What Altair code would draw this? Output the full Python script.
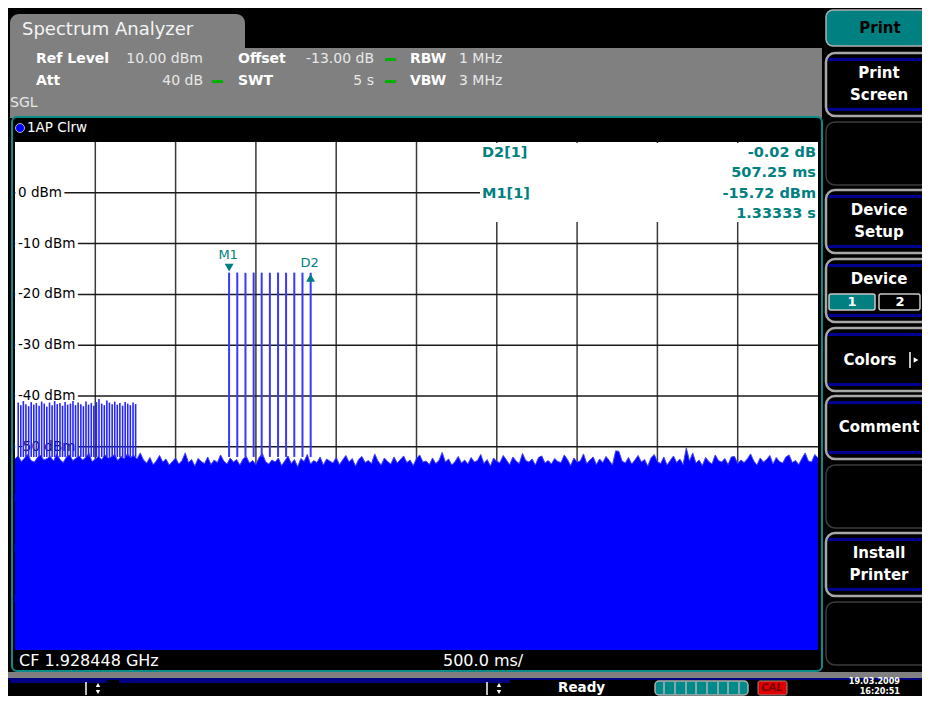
import altair as alt
import pandas as pd

# ---------------- data ----------------
sweep_step_s = 0.02          # trace sample spacing along the 5 s sweep
noise_dbm = [
    -52.4, -51.8, -52.9, -52.2, -51.5, -52.7, -53.0, -52.1, -51.7, -52.6,
    -52.3, -51.9, -52.8, -51.4, -52.5, -53.1, -52.0, -51.6, -52.7, -52.2,
    -51.8, -52.6, -52.1, -51.3, -52.9, -52.4, -51.9, -52.5, -51.6, -52.2,
    -52.0, -51.5, -52.7, -51.9, -52.3, -51.4, -52.1, -51.7, -52.4, -51.2,
    -52.6, -53.2, -52.1, -53.5, -52.8, -51.7, -53.0, -52.4, -53.6, -52.9,
    -52.2, -53.4, -52.7, -51.2, -53.1, -52.5, -53.8, -52.3, -52.9, -53.3,
    -52.0, -53.5, -52.6, -53.1, -51.6, -52.8, -53.4, -52.2, -53.0, -52.5,
    -53.6, -52.4, -51.9, -53.2, -52.7, -53.5, -52.1, -51.3, -52.9, -53.4,
    -52.6, -53.0, -52.2, -53.7, -52.8, -51.8, -53.3, -52.5, -53.9, -52.3,
    -52.9, -51.5, -53.4, -52.7, -53.1, -52.0, -53.6, -52.4, -52.8, -53.2,
    -52.1, -53.5, -52.6, -51.7, -53.0, -52.3, -53.8, -52.5, -51.9, -53.1,
    -52.7, -53.3, -51.4, -52.8, -53.6, -52.2, -52.9, -53.4, -52.0, -53.2,
    -52.5, -51.8, -53.1, -52.6, -53.7, -52.3, -51.6, -53.0, -52.8, -53.5,
    -52.2, -53.3, -52.7, -51.1, -53.0, -52.4, -53.6, -52.9, -51.9, -53.2,
    -52.6, -53.4, -52.1, -53.0, -52.7, -51.5, -53.3, -52.5, -53.8, -52.2,
    -52.9, -53.1, -51.7, -52.6, -53.5, -52.0, -52.8, -53.3, -51.3, -52.7,
    -53.0, -52.4, -53.6, -52.1, -51.8, -53.2, -52.7, -53.4, -52.3, -52.9,
    -53.1, -51.6, -52.5, -53.7, -52.2, -53.0, -52.8, -51.4, -53.3, -52.6,
    -52.0, -53.5, -52.4, -53.1, -51.9, -52.7, -53.6, -50.8, -50.9, -52.8,
    -53.2, -52.1, -53.4, -52.6, -51.7, -53.0, -52.5, -53.8, -52.2, -51.5,
    -52.9, -53.3, -52.0, -53.6, -52.7, -51.8, -53.1, -52.4, -53.5, -50.2,
    -52.8, -51.2, -53.2, -52.6, -53.7, -52.1, -52.9, -53.4, -51.6, -52.7,
    -53.0, -52.3, -53.5, -52.0, -51.9, -53.3, -52.6, -53.1, -52.4, -51.4,
    -52.8, -53.6, -52.2, -53.0, -52.5, -51.7, -53.4, -52.1, -52.9, -53.2,
    -52.0, -51.6, -53.1, -52.7, -53.5, -52.3, -51.2, -52.8, -53.0, -51.5,
    -52.2,
]
left_burst_t = [
    0.020, 0.036, 0.052, 0.068, 0.085, 0.101, 0.117, 0.133, 0.150, 0.166,
    0.182, 0.198, 0.215, 0.231, 0.247, 0.263, 0.280, 0.296, 0.312, 0.328,
    0.345, 0.361, 0.377, 0.393, 0.410, 0.426, 0.442, 0.458, 0.475, 0.491,
    0.507, 0.523, 0.540, 0.556, 0.572, 0.588, 0.605, 0.621, 0.637, 0.653,
    0.670, 0.686, 0.702, 0.718, 0.735, 0.751,
]
left_burst_dbm = [
    -41.3, -41.8, -41.0, -41.6, -42.0, -41.2, -41.7, -41.4, -41.9, -41.1,
    -41.5, -42.1, -41.3, -41.8, -41.0, -41.6, -41.4, -41.9, -41.2, -41.7,
    -41.5, -41.0, -41.8, -41.3, -41.6, -42.0, -41.1, -41.7, -41.4, -41.9,
    -41.2, -40.6, -41.5, -41.8, -40.9, -41.3, -41.6, -41.1, -41.7, -41.4,
    -41.9, -41.2, -41.5, -41.8, -41.3, -41.6,
]
m1_burst_t = [1.333, 1.384, 1.435, 1.486, 1.536, 1.587, 1.638, 1.688, 1.739, 1.790, 1.841]
m1_burst_dbm = [-15.72, -15.70, -15.75, -15.70, -15.72, -15.74, -15.70, -15.73, -15.71, -15.72, -15.74]
burst_floor_dbm = -52.0

ref_levels = [0, -10, -20, -30, -40, -50, -60, -70, -80]
ref_labels = ["0 dBm", "-10 dBm", "-20 dBm", "-30 dBm", "-40 dBm", "-50 dBm", "-60 dBm", "-70 dBm", "-80 dBm"]
time_grid_s = [0.5, 1.0, 1.5, 2.0, 2.5, 3.0, 3.5, 4.0, 4.5]
marker_names = ["M1", "D2"]
marker_t = [1.33333, 1.84058]
marker_dbm = [-15.72, -15.74]

# ---------------- layout helpers (pixel positions of the instrument frame) ----------------
OX, OY = 8, 8
W, H = 914, 688
XS = alt.Scale(domain=[0, 5], range=[15 - OX, 818 - OX])
YS = alt.Scale(domain=[-90, 10], range=[650 - OY, 142 - OY])


def dx(f):
    return alt.X(f, type="quantitative", scale=XS, axis=None)


def dy(f):
    return alt.Y(f, type="quantitative", scale=YS, axis=None)


def px(f):
    return alt.X(f, type="quantitative", scale=None, axis=None)


def py(f):
    return alt.Y(f, type="quantitative", scale=None, axis=None)


def rects(rows, **kw):
    df = pd.DataFrame([{"x": a - OX, "y": b - OY, "x2": c - OX, "y2": d - OY, "f": col}
                       for a, b, c, d, col in rows])
    return alt.Chart(df).mark_rect(**kw).encode(
        x=px("x"), x2=alt.X2("x2"), y=py("y"), y2=alt.Y2("y2"),
        fill=alt.Fill("f:N", scale=None, legend=None))


def texts(rows, **kw):
    df = pd.DataFrame([{"x": a - OX, "y": b - OY, "t": s, "c": col} for s, a, b, col in rows])
    kw.setdefault("baseline", "middle")
    return alt.Chart(df).mark_text(**kw).encode(
        x=px("x"), y=py("y"), text="t:N", color=alt.Color("c:N", scale=None, legend=None))


def segs(rows, **kw):
    df = pd.DataFrame([{"x": a - OX, "y": b - OY, "x2": c - OX, "y2": d - OY} for a, b, c, d in rows])
    return alt.Chart(df).mark_rule(**kw).encode(x=px("x"), x2=alt.X2("x2"), y=py("y"), y2=alt.Y2("y2"))


def pts(rows, **kw):
    df = pd.DataFrame([{"x": a - OX, "y": b - OY} for a, b in rows])
    return alt.Chart(df).mark_point(**kw).encode(x=px("x"), y=py("y"))


GRAY = "#808080"
TEAL = "#008080"
TXT = "#e8e8e8"
layers = []

# ---- frame / panels ----
layers.append(rects([(10, 14, 245, 60, GRAY)], cornerRadiusTopLeft=9, cornerRadiusTopRight=9))
layers.append(rects([
    (10, 48, 822, 118, GRAY),
    (8, 672, 930, 678, GRAY),
    (8, 678, 930, 680, "#000080"),
    (10, 678, 107, 683, "#000080"),
    (119, 678, 510, 683, "#000080"),
    (385, 58, 396, 61, "#00b000"),
    (212, 80, 223, 83, "#00b000"),
    (385, 80, 396, 83, "#00b000"),
]))
layers.append(rects([(12, 117, 822, 671, "#000000")], cornerRadius=5, stroke="#0b8a8a", strokeWidth=2))
layers.append(rects([(15, 142, 818, 650, "#ffffff")]))

# softkey column
layers.append(rects([(826, 10, 936, 46, TEAL)], cornerRadius=7, stroke="#b0b0b0", strokeWidth=1.5))
btn_full = [53, 190, 259, 328, 396, 533]
btn_empty = [122, 465, 602]
layers.append(rects([(826, y, 936, y + 63, "#000000") for y in btn_full],
                    cornerRadius=9, stroke="#a8a8a8", strokeWidth=2.5))
layers.append(rects([(826, y, 936, y + 63, "#000000") for y in btn_empty],
                    cornerRadius=9, stroke="#3c3c3c", strokeWidth=1.5))
bars = []
for y in btn_full:
    bars.append((828, y + 5, 934, y + 8, "#000090"))
    bars.append((828, y + 55, 934, y + 58, "#000090"))
layers.append(rects(bars))
layers.append(rects([(829, 294, 875, 310, TEAL)], cornerRadius=2, stroke="#c8c8c8", strokeWidth=1.5))
layers.append(rects([(879, 294, 920, 310, "#000000")], cornerRadius=2, stroke="#c8c8c8", strokeWidth=1.5))
layers.append(segs([(910, 352, 910, 368)], color="#ffffff", strokeWidth=1.5))
layers.append(pts([(916, 360)], shape="triangle-right", filled=True, color="#ffffff", size=30, opacity=1))

# status bar
layers.append(rects([(655, 681, 748, 695, "#008a8a")], cornerRadius=4, stroke="#b0b0b0", strokeWidth=1.5))
layers.append(segs([(x, 682, x, 694) for x in [664, 675, 686, 696, 707, 718, 728, 739]],
                   color="#b0b0b0", strokeWidth=1.5))
layers.append(rects([(758, 681, 787, 695, "#e00000")], cornerRadius=2, stroke="#909090", strokeWidth=1))
layers.append(segs([(86, 682, 86, 695), (487, 682, 487, 695)], color="#ffffff", strokeWidth=1.5))
layers.append(pts([(98, 685), (499, 685)], shape="triangle-up", filled=True, color="#ffffff", size=20, opacity=1))
layers.append(pts([(98, 692), (499, 692)], shape="triangle-down", filled=True, color="#ffffff", size=20, opacity=1))

# ---- diagram: grid ----
vgrid = pd.DataFrame({"t": time_grid_s, "lo": [-90] * len(time_grid_s), "hi": [10] * len(time_grid_s)})
layers.append(alt.Chart(vgrid).mark_rule(color="#3a3a3a", strokeWidth=1.5).encode(
    x=dx("t"), y=dy("lo"), y2=alt.Y2("hi")))
hgrid = pd.DataFrame({"lvl": ref_levels, "a": [0] * len(ref_levels), "b": [5] * len(ref_levels)})
layers.append(alt.Chart(hgrid).mark_rule(color="#1a1a1a", strokeWidth=1.5).encode(
    y=dy("lvl"), x=dx("a"), x2=alt.X2("b")))
# marker info field
layers.append(rects([(480, 143, 818, 222, "#ffffff")]))

lab = pd.DataFrame({"lvl": ref_levels, "lab": ref_labels})
lab_font = dict(font="DejaVu Sans", fontSize=13.5, align="left", baseline="middle")
layers.append(alt.Chart(lab).mark_text(color="#ffffff", stroke="#ffffff", strokeWidth=7, **lab_font).encode(
    x=alt.value(18 - OX), y=dy("lvl"), text="lab:N"))
layers.append(alt.Chart(lab).mark_text(color="#000000", **lab_font).encode(
    x=alt.value(18 - OX), y=dy("lvl"), text="lab:N"))

# ---- trace ----
trace = pd.DataFrame({"t": [i * sweep_step_s for i in range(len(noise_dbm))], "lvl": noise_dbm})
layers.append(alt.Chart(trace).mark_area(
    color="#0000ff", opacity=1, fillOpacity=1,
    line=alt.OverlayMarkDef(color="#4646ff", strokeWidth=1)).encode(
    x=dx("t"), y=dy("lvl"), y2=alt.datum(-90)))
lb = pd.DataFrame({"t": left_burst_t, "lvl": left_burst_dbm, "fl": [burst_floor_dbm] * len(left_burst_t)})
layers.append(alt.Chart(lb).mark_rule(color="#2626ff", strokeWidth=1.6).encode(
    x=dx("t"), y=dy("lvl"), y2=alt.Y2("fl")))
mb = pd.DataFrame({"t": m1_burst_t, "lvl": m1_burst_dbm, "fl": [burst_floor_dbm] * len(m1_burst_t)})
layers.append(alt.Chart(mb).mark_rule(color="#3838ff", strokeWidth=2).encode(
    x=dx("t"), y=dy("lvl"), y2=alt.Y2("fl")))

# markers
mk = pd.DataFrame({"name": marker_names, "t": marker_t, "lvl": marker_dbm})
layers.append(alt.Chart(mk[mk.name == "M1"]).mark_point(
    shape="triangle-down", filled=True, color=TEAL, size=80, opacity=1, yOffset=-5).encode(x=dx("t"), y=dy("lvl")))
layers.append(alt.Chart(mk[mk.name == "D2"]).mark_point(
    shape="triangle-up", filled=True, color=TEAL, size=80, opacity=1, yOffset=5).encode(x=dx("t"), y=dy("lvl")))
layers.append(alt.Chart(mk[mk.name == "M1"]).mark_text(
    font="DejaVu Sans", fontSize=13, color=TEAL, yOffset=-18, dx=-1).encode(x=dx("t"), y=dy("lvl"), text="name:N"))
layers.append(alt.Chart(mk[mk.name == "D2"]).mark_text(
    font="DejaVu Sans", fontSize=13, color=TEAL, yOffset=-10, dx=-1).encode(x=dx("t"), y=dy("lvl"), text="name:N"))

# ---- texts ----
layers.append(texts([("Spectrum Analyzer", 22, 30, "#f4f4f4")], font="DejaVu Sans", fontSize=18, align="left"))
layers.append(texts([("Ref Level", 36, 59, "#ffffff"), ("Att", 36, 81, "#ffffff"),
                     ("Offset", 238, 59, "#ffffff"), ("SWT", 238, 81, "#ffffff"),
                     ("RBW", 410, 59, "#ffffff"), ("VBW", 410, 81, "#ffffff")],
                    font="DejaVu Sans", fontSize=14, fontWeight="bold", align="left"))
layers.append(texts([("10.00 dBm", 203, 59, TXT), ("40 dB", 203, 81, TXT),
                     ("-13.00 dB", 374, 59, TXT), ("5 s", 374, 81, TXT)],
                    font="DejaVu Sans", fontSize=14, align="right"))
layers.append(texts([("1 MHz", 459, 59, TXT), ("3 MHz", 459, 81, TXT), ("SGL", 10, 103, TXT)],
                    font="DejaVu Sans", fontSize=14, align="left"))
dot = pd.DataFrame({"x": [20 - OX], "y": [128 - OY]})
layers.append(alt.Chart(dot).mark_circle(color="#0000ff", fill="#0000ff", fillOpacity=1, opacity=1, size=80,
                                         stroke="#b8b8b8", strokeWidth=1).encode(x=px("x"), y=py("y")))
layers.append(texts([("1AP Clrw", 27, 128, "#ffffff")], font="DejaVu Sans", fontSize=13.5, align="left"))
layers.append(texts([("CF 1.928448 GHz", 19, 661, "#ffffff"), ("500.0 ms/", 443, 661, "#ffffff")],
                    font="DejaVu Sans", fontSize=16, align="left"))
layers.append(texts([("D2[1]", 482, 153, TEAL), ("M1[1]", 482, 194, TEAL)],
                    font="DejaVu Sans", fontSize=14.5, fontWeight="bold", align="left"))
layers.append(texts([("-0.02 dB", 816, 153, TEAL), ("507.25 ms", 816, 173, TEAL),
                     ("-15.72 dBm", 816, 194, TEAL), ("1.33333 s", 816, 214, TEAL)],
                    font="DejaVu Sans", fontSize=14.5, fontWeight="bold", align="right"))
layers.append(texts([("Print", 880, 28, "#000000")], font="DejaVu Sans", fontSize=15, fontWeight="bold", align="center"))
layers.append(texts([("Print", 879, 73, "#ffffff"), ("Screen", 879, 95, "#ffffff"),
                     ("Device", 879, 210, "#ffffff"), ("Setup", 879, 232, "#ffffff"),
                     ("Device", 879, 279, "#ffffff"), ("Colors", 870, 360, "#ffffff"),
                     ("Comment", 879, 427, "#ffffff"), ("Install", 879, 553, "#ffffff"),
                     ("Printer", 879, 575, "#ffffff")],
                    font="DejaVu Sans", fontSize=15, fontWeight="bold", align="center"))
layers.append(texts([("1", 852, 302, "#ffffff"), ("2", 900, 302, "#ffffff")],
                    font="DejaVu Sans", fontSize=13, fontWeight="bold", align="center"))
layers.append(texts([("Ready", 558, 688, "#ffffff")], font="DejaVu Sans", fontSize=13.5, fontWeight="bold", align="left"))
layers.append(texts([("CAL", 772, 688, "#7a0000")], font="DejaVu Sans", fontSize=10, fontWeight="bold",
                    fontStyle="italic", align="center"))
layers.append(texts([("19.03.2009", 900, 681, "#ffffff"), ("16:20:51", 900, 691, "#ffffff")],
                    font="DejaVu Sans Condensed", fontSize=9, fontWeight="bold", align="right"))

chart = alt.layer(*layers).resolve_scale(
    x="independent", y="independent", color="independent", fill="independent"
).properties(
    width=W, height=H, autosize=alt.AutoSizeParams(type="none"), padding=0, background="#000000"
).configure_view(stroke=None)

chart.save("out.html", embed_options={"renderer": "svg", "actions": False})
